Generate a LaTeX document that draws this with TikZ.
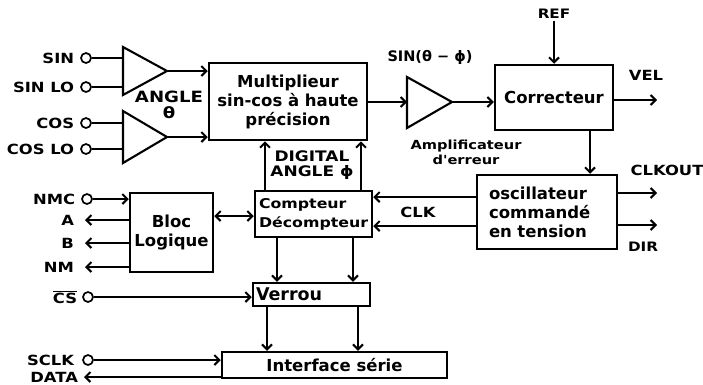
\documentclass[tikz,border=0pt]{standalone}
\usepackage{fontspec}
\setmainfont{DejaVu Sans}
\newfontfamily\lblfont{DejaVu Sans}[FakeStretch=1.17]
\usetikzlibrary{arrows.meta,positioning}

\begin{document}
\begin{tikzpicture}[x=1pt, y=-1pt, line width=2.1pt,
  blk/.style={draw, line width=2.5pt, align=center, inner sep=0pt,
              font=\bfseries\fontsize{16.5}{19}\selectfont},
  lbl/.style={font=\lblfont\bfseries\fontsize{14}{16}\selectfont, inner sep=1pt, align=center},
  mid/.style={font=\lblfont\bfseries\fontsize{14.5}{15.5}\selectfont, inner sep=0pt, align=center},
  pinc/.style={circle, draw, line width=1.7pt, minimum size=10pt, inner sep=0pt},
  ar/.style={-{Straight Barb[length=5pt, width=10pt]}},
  dar/.style={{Straight Barb[length=5pt, width=10pt]}-{Straight Barb[length=5pt, width=10pt]}}]
\useasboundingbox (0,0) rectangle (703,384);

% --- blocks
\node[blk, minimum width=158, minimum height=77] (mult) at (288,101.5)
  {Multiplieur\\sin-cos à haute\\précision};
\node[blk, minimum width=118, minimum height=65] (corr) at (554,97.5) {Correcteur};
\node[blk, minimum width=140, minimum height=74, align=left, text width=116, inner xsep=12]
  (vco) at (547,212) {oscillateur\\commandé\\en tension};
\node[blk, minimum width=117, minimum height=46, align=left, text width=109, inner xsep=4,
  font=\lblfont\bfseries\fontsize{13.5}{19}\selectfont] (cnt) at (313.5,214) {Compteur\\Décompteur};
\node[blk, minimum width=83, minimum height=79] (bloc) at (171.5,232.5) {Bloc\\Logique};
\node[blk, minimum width=117, minimum height=23, align=left, text width=111, inner xsep=3,
  font=\bfseries\fontsize{17.5}{19}\selectfont] (verrou) at (311.5,294.5) {Verrou};
\node[blk, minimum width=225, minimum height=26] (iface) at (334.5,365) {Interface série};

% --- amplifiers
\coordinate (a1top) at (123,47);  \coordinate (a1bot) at (123,95);  \coordinate (a1tip) at (167,71);
\coordinate (a2top) at (123,111); \coordinate (a2bot) at (123,163); \coordinate (a2tip) at (167,137);
\coordinate (a3top) at (407,77);  \coordinate (a3bot) at (407,128); \coordinate (a3tip) at (452,102);
\draw (a1top) -- (a1tip) -- (a1bot) -- cycle;
\draw (a2top) -- (a2tip) -- (a2bot) -- cycle;
\draw (a3top) -- (a3tip) -- (a3bot) -- cycle;

% --- input pins
\node[pinc] (sin) at (86,58) {};
\node[pinc] (sinlo) at (86,87) {};
\node[pinc] (cos) at (86,123) {};
\node[pinc] (coslo) at (86,149) {};
\node[pinc] (nmc) at (87,199) {};
\node[pinc] (cs) at (88,297) {};
\node[pinc] (sclk) at (88,360) {};
\node[lbl, left=4pt of sin] {SIN};
\node[lbl, left=4pt of sinlo] {SIN LO};
\node[lbl, left=4pt of cos] {COS};
\node[lbl, left=4pt of coslo] {COS LO};
\node[lbl, left=4pt of nmc] {NMC};
\node[lbl, left=3pt of cs] {$\overline{\mbox{CS}}$};
\node[lbl, left=6pt of sclk] {SCLK};

% --- output labels
\node[lbl, anchor=east, inner xsep=10pt] (a) at (85,220) {A};
\node[lbl, anchor=east, inner xsep=10pt] (b) at (85,243) {B};
\node[lbl, anchor=east, inner xsep=10pt] (nm) at (85,267) {NM};
\node[lbl, anchor=east, inner xsep=5pt] (data) at (84,377) {DATA};
\node[lbl, font=\lblfont\bfseries\fontsize{13}{15}\selectfont] (ref) at (554,14) {REF};
\coordinate (velend) at (657,100);
\node[lbl] (vel) at (646,75) {VEL};
\coordinate (clkoutend) at (657,193);
\coordinate (dirend) at (657,225);
\node[lbl] (clkout) at (667,170) {CLKOUT};
\node[lbl, font=\lblfont\bfseries\fontsize{13}{15}\selectfont] (dir) at (643,247) {DIR};
\node[lbl] (clk) at (418,212) {CLK};
\node[mid, font=\lblfont\bfseries\fontsize{15.5}{15.5}\selectfont] (angle) at (169,105) {ANGLE\\θ};
\node[mid] (dig) at (312,165) {DIGITAL\\ANGLE ϕ};
\node[mid, font=\bfseries\fontsize{14.5}{16}\selectfont] (sinerr) at (430,57) {SIN(θ − ϕ)};
\node[lbl, font=\lblfont\bfseries\fontsize{12.5}{15}\selectfont] (amperr) at (466,152)
  {Amplificateur\\d'erreur};

% --- connectors
\draw (sin) -- (sin -| a1top);
\draw (sinlo) -- (sinlo -| a1top);
\draw (cos) -- (cos -| a2top);
\draw (coslo) -- (coslo -| a2top);
\draw[ar] (a1tip) -- (a1tip -| mult.west);
\draw[ar] (a2tip) -- (a2tip -| mult.west);
\draw[ar] (mult.east |- a3tip) -- (a3tip -| a3top);
\draw[ar] (a3tip) -- (a3tip -| corr.west);
\draw[ar] (ref) -- (corr.north);
\draw[ar] (corr.east |- velend) -- (velend);
\draw[ar] (corr.south -| 590,0) -- (vco.north -| 590,0);
\draw[ar] (vco.east |- clkoutend) -- (clkoutend);
\draw[ar] (vco.east |- dirend) -- (dirend);
\draw[ar] (vco.west |- 0,197) -- (cnt.east |- 0,197);
\draw[ar] (vco.west |- 0,226) -- (cnt.east |- 0,226);
\draw[ar] (cnt.north -| 265,0) -- (mult.south -| 265,0);
\draw[ar] (cnt.north -| 361,0) -- (mult.south -| 361,0);
\draw[dar] (bloc.east |- 0,216) -- (cnt.west |- 0,216);
\draw[ar] (nmc) -- (nmc -| bloc.west);
\draw[ar] (bloc.west |- a) -- (a);
\draw[ar] (bloc.west |- b) -- (b);
\draw[ar] (bloc.west |- nm) -- (nm);
\draw[ar] (cnt.south -| 277,0) -- (verrou.north -| 277,0);
\draw[ar] (cnt.south -| 353,0) -- (verrou.north -| 353,0);
\draw[ar] (cs) -- (cs -| verrou.west);
\draw[ar] (verrou.south -| 267,0) -- (iface.north -| 267,0);
\draw[ar] (verrou.south -| 358,0) -- (iface.north -| 358,0);
\draw[ar] (sclk) -- (sclk -| iface.west);
\draw[ar] (iface.west |- data) -- (data);
\end{tikzpicture}
\end{document}
